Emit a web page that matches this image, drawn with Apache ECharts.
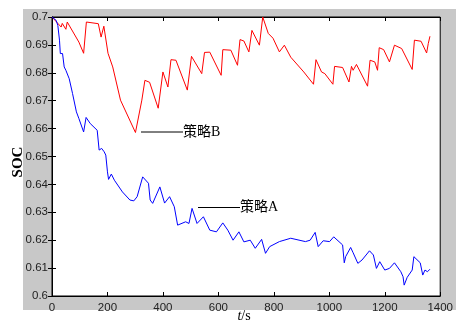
<!DOCTYPE html>
<html>
<head>
<meta charset="utf-8">
<script src="https://cdn.jsdelivr.net/npm/echarts@6/dist/echarts.min.js"></script>
<style>
  html, body { margin: 0; padding: 0; background: #fff; }
  #main { width: 456px; height: 323px; }
</style>
</head>
<body>
<div id="main"></div>
<script>
// 策略B (red): [t (s), SOC]
const strategyB = [
  [0, 0.7000], [4, 0.6996], [33, 0.6964], [37, 0.6977], [50, 0.6956], [55, 0.6982],
  [97, 0.6910], [114, 0.6870], [124, 0.6982], [167, 0.6976], [177, 0.6928], [187, 0.6967],
  [202, 0.6870], [219, 0.6821], [247, 0.6702], [301, 0.6586], [324, 0.6702], [335, 0.6773],
  [352, 0.6766], [383, 0.6673], [400, 0.6803], [418, 0.6749], [429, 0.6847], [447, 0.6845],
  [488, 0.6738], [503, 0.6859], [540, 0.6797], [550, 0.6873], [569, 0.6874], [610, 0.6791],
  [616, 0.6883], [645, 0.6881], [669, 0.6827], [678, 0.6919], [692, 0.6914], [710, 0.6875],
  [721, 0.6952], [748, 0.6899], [760, 0.7000], [780, 0.6941], [797, 0.6924], [820, 0.6875],
  [838, 0.6899], [861, 0.6856], [908, 0.6803], [943, 0.6759], [952, 0.6847], [972, 0.6803],
  [984, 0.6797], [1013, 0.6759], [1019, 0.6823], [1048, 0.6819], [1071, 0.6767], [1080, 0.6823],
  [1086, 0.6809], [1098, 0.6830], [1138, 0.6752], [1147, 0.6845], [1164, 0.6839], [1174, 0.6809],
  [1180, 0.6890], [1196, 0.6883], [1217, 0.6839], [1235, 0.6899], [1261, 0.6887], [1299, 0.6812],
  [1307, 0.6917], [1331, 0.6913], [1351, 0.6871], [1357, 0.6905], [1363, 0.6931]
];

// 策略A (blue): [t (s), SOC]
const strategyA = [
  [0, 0.7000], [15, 0.6988], [21, 0.6970], [27, 0.6917], [30, 0.6869], [38, 0.6869],
  [44, 0.6821], [50, 0.6809], [62, 0.6779], [74, 0.6726], [88, 0.6660], [97, 0.6636],
  [114, 0.6588], [123, 0.6640], [138, 0.6618], [163, 0.6594], [170, 0.6523], [179, 0.6529],
  [188, 0.6517], [194, 0.6505], [200, 0.6445], [204, 0.6418], [214, 0.6437], [225, 0.6415],
  [254, 0.6373], [281, 0.6344], [295, 0.6341], [307, 0.6356], [327, 0.6427], [348, 0.6404],
  [354, 0.6344], [363, 0.6332], [389, 0.6391], [406, 0.6333], [424, 0.6356], [441, 0.6320],
  [453, 0.6254], [482, 0.6266], [494, 0.6260], [505, 0.6314], [523, 0.6260], [546, 0.6284],
  [569, 0.6236], [593, 0.6230], [616, 0.6262], [634, 0.6236], [653, 0.6200], [674, 0.6230],
  [692, 0.6194], [715, 0.6200], [733, 0.6171], [756, 0.6203], [770, 0.6153], [785, 0.6177],
  [820, 0.6195], [861, 0.6207], [914, 0.6195], [931, 0.6200], [949, 0.6228], [960, 0.6177],
  [978, 0.6198], [1001, 0.6195], [1016, 0.6212], [1048, 0.6183], [1054, 0.6119], [1059, 0.6141],
  [1077, 0.6174], [1086, 0.6155], [1103, 0.6117], [1118, 0.6129], [1145, 0.6162], [1159, 0.6147],
  [1170, 0.6099], [1182, 0.6123], [1200, 0.6093], [1217, 0.6099], [1235, 0.6119], [1258, 0.6087],
  [1266, 0.6069], [1270, 0.6039], [1281, 0.6067], [1299, 0.6093], [1305, 0.6141], [1328, 0.6119],
  [1337, 0.6075], [1345, 0.6093], [1354, 0.6087], [1363, 0.6096]
];

const xTicks = { min: 0, max: 1400, interval: 200 };
const yTicks = { min: 0.6, max: 0.7, interval: 0.01 };

const chart = echarts.init(document.getElementById('main'));

const labelFont = { fontFamily: 'Liberation Sans, Arial', fontSize: 11.5, color: '#222' };
const lineBlack = { lineStyle: { color: '#000', width: 1 } };

chart.setOption({
  animation: false,
  backgroundColor: '#fff',
  graphic: [
    { type: 'rect', z: -10, silent: true, shape: { x: 23, y: 9, width: 433, height: 301 }, style: { fill: '#c8c8c8' } },
    { type: 'text', z: 10, x: 18, y: 162, rotation: Math.PI / 2,
      style: { text: 'SOC', font: 'bold 15px "Liberation Serif", "Times New Roman", serif', fill: '#000', align: 'center', verticalAlign: 'middle' } },
    { type: 'text', z: 10, x: 244, y: 316,
      style: { text: '{i|t}/s', align: 'center', verticalAlign: 'middle',
        font: '14px "Liberation Serif", serif', fill: '#000',
        rich: { i: { fontStyle: 'italic', fontFamily: 'Liberation Serif', fontSize: 14, fill: '#000' } } } },
    { type: 'line', z: 10, shape: { x1: 141, y1: 132, x2: 183, y2: 132 }, style: { stroke: '#000', lineWidth: 1 } },
    { type: 'text', z: 10, x: 183, y: 132,
      style: { text: '策略B', font: '14px "Liberation Serif", "Noto Sans CJK SC", serif', fill: '#000', verticalAlign: 'middle' } },
    { type: 'line', z: 10, shape: { x1: 198, y1: 207.5, x2: 240, y2: 207.5 }, style: { stroke: '#000', lineWidth: 1 } },
    { type: 'text', z: 10, x: 240, y: 207,
      style: { text: '策略A', font: '14px "Liberation Serif", "Noto Sans CJK SC", serif', fill: '#000', verticalAlign: 'middle' } }
  ],
  grid: {
    left: 52, top: 17, width: 399, height: 279,
    show: true, backgroundColor: '#fff', borderColor: '#000', borderWidth: 1
  },
  xAxis: [
    {
      type: 'value', position: 'bottom', min: xTicks.min, max: xTicks.max, interval: xTicks.interval,
      axisLine: lineBlack, axisTick: { inside: true, length: 4, ...lineBlack },
      axisLabel: { ...labelFont, margin: 6, showMaxLabel: true, formatter: v => String(v) }, splitLine: { show: false }
    },
    {
      type: 'value', position: 'top', min: xTicks.min, max: xTicks.max, interval: xTicks.interval,
      axisLine: lineBlack, axisTick: { inside: true, length: 4, ...lineBlack },
      axisLabel: { show: false }, splitLine: { show: false }
    }
  ],
  yAxis: [
    {
      type: 'value', position: 'left', min: yTicks.min, max: yTicks.max, interval: yTicks.interval,
      axisLine: { show: true, ...lineBlack }, axisTick: { show: true, inside: true, length: 4, ...lineBlack },
      axisLabel: { ...labelFont, margin: 4, formatter: v => String(+v.toFixed(2)) }, splitLine: { show: false }
    },
    {
      type: 'value', position: 'right', min: yTicks.min, max: yTicks.max, interval: yTicks.interval,
      axisLine: { show: true, ...lineBlack }, axisTick: { show: true, inside: true, length: 4, ...lineBlack },
      axisLabel: { show: false }, splitLine: { show: false }
    }
  ],
  series: [
    { name: '策略B', type: 'line', data: strategyB, showSymbol: false, lineStyle: { color: '#ff0000', width: 1 }, z: 3 },
    { name: '策略A', type: 'line', data: strategyA, showSymbol: false, lineStyle: { color: '#0000ff', width: 1 }, z: 3 }
  ]
});
</script>
</body>
</html>
